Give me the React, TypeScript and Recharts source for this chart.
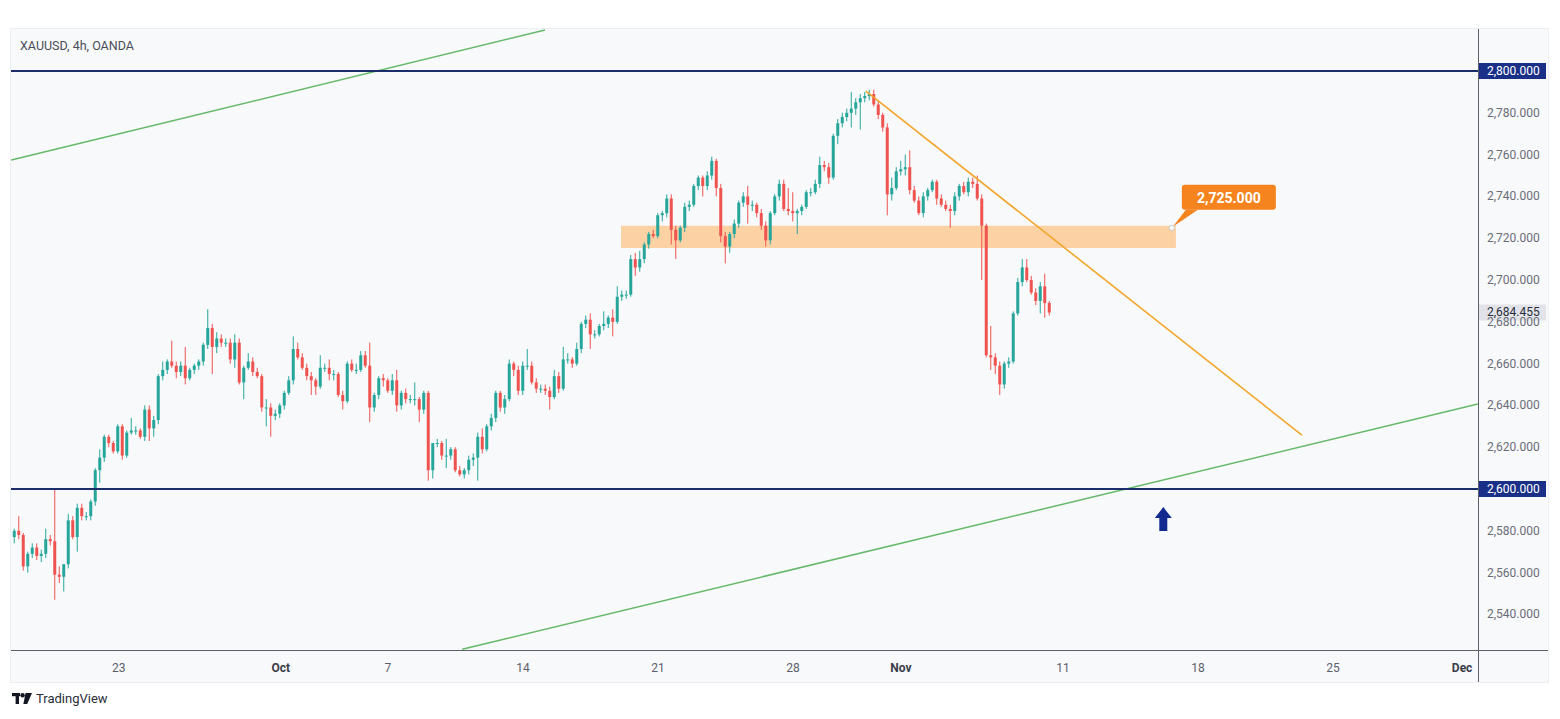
import React from 'react';
import {
  ComposedChart,
  Bar,
  XAxis,
  YAxis,
  ReferenceLine,
  ReferenceArea,
  ReferenceDot,
} from 'recharts';

// XAUUSD 4h candles, 17 Sep - 8 Nov
const opens = [
  2577, 2580, 2578, 2563, 2569, 2572, 2568, 2569, 2576, 2575,
  2559, 2558, 2564, 2585, 2577, 2591, 2587, 2587, 2594, 2609,
  2615, 2625, 2622, 2618, 2630, 2616, 2627, 2628, 2628, 2625,
  2638, 2629, 2633, 2654, 2657, 2661, 2659, 2656, 2659, 2653,
  2657, 2659, 2661, 2669, 2677, 2668, 2672, 2670, 2670, 2662,
  2670, 2651, 2658, 2661, 2656, 2654, 2639, 2639, 2635, 2636,
  2640, 2646, 2652, 2667, 2663, 2658, 2654, 2652, 2649, 2658,
  2658, 2655, 2655, 2645, 2642, 2660, 2657, 2657, 2664, 2659,
  2639, 2645, 2653, 2652, 2647, 2652, 2640, 2646, 2643, 2643,
  2643, 2638, 2646, 2609, 2622, 2622, 2616, 2616, 2619, 2609,
  2607, 2609, 2614, 2615, 2625, 2619, 2630, 2634, 2646, 2639,
  2643, 2660, 2657, 2647, 2659, 2659, 2651, 2648, 2648, 2647,
  2644, 2654, 2648, 2662, 2662, 2660, 2667, 2679, 2681, 2674,
  2674, 2678, 2679, 2682, 2680, 2692, 2693, 2693, 2710, 2706,
  2710, 2717, 2722, 2721, 2731, 2732, 2739, 2724, 2719, 2725,
  2735, 2736, 2745, 2749, 2745, 2750, 2757, 2744, 2721, 2716,
  2722, 2727, 2737, 2740, 2736, 2736, 2732, 2726, 2719, 2732,
  2740, 2746, 2734, 2733, 2732, 2733, 2735, 2742, 2742, 2746,
  2755, 2754, 2749, 2769, 2775, 2778, 2780, 2782, 2785, 2787,
  2788, 2789, 2784, 2779, 2773, 2741, 2744, 2752, 2753, 2754,
  2743, 2738, 2732, 2740, 2743, 2747, 2739, 2736, 2734, 2733,
  2740, 2745, 2742, 2747, 2746, 2739, 2726, 2664, 2663, 2659,
  2650, 2660, 2661, 2684, 2699, 2706, 2700, 2694, 2690, 2697,
  2689,
];

const highs = [
  2581, 2587, 2579, 2570, 2574, 2574, 2571, 2581, 2578, 2600,
  2563, 2564, 2588, 2587, 2593, 2593, 2589, 2595, 2610, 2619,
  2626, 2626, 2623, 2631, 2631, 2628, 2634, 2630, 2629, 2640,
  2640, 2635, 2655, 2661, 2662, 2671, 2661, 2661, 2668, 2658,
  2660, 2662, 2670, 2686, 2679, 2675, 2674, 2672, 2672, 2674,
  2672, 2659, 2665, 2663, 2658, 2655, 2643, 2641, 2638, 2641,
  2647, 2654, 2673, 2670, 2665, 2660, 2656, 2653, 2664, 2660,
  2662, 2657, 2656, 2647, 2661, 2662, 2660, 2666, 2666, 2670,
  2646, 2654, 2655, 2653, 2655, 2657, 2647, 2648, 2645, 2651,
  2644, 2647, 2647, 2622, 2624, 2623, 2624, 2620, 2620, 2611,
  2610, 2616, 2617, 2627, 2629, 2631, 2636, 2647, 2647, 2645,
  2662, 2661, 2659, 2661, 2667, 2661, 2653, 2650, 2650, 2649,
  2657, 2656, 2668, 2665, 2663, 2670, 2680, 2683, 2684, 2676,
  2679, 2685, 2683, 2686, 2697, 2695, 2695, 2712, 2713, 2714,
  2718, 2723, 2724, 2732, 2733, 2741, 2741, 2726, 2726, 2737,
  2738, 2746, 2750, 2750, 2752, 2759, 2758, 2746, 2723, 2723,
  2729, 2738, 2742, 2745, 2738, 2737, 2734, 2728, 2733, 2741,
  2748, 2748, 2744, 2742, 2734, 2736, 2743, 2744, 2748, 2759,
  2757, 2756, 2770, 2777, 2780, 2782, 2790, 2787, 2789, 2790,
  2791, 2791, 2786, 2780, 2775, 2749, 2754, 2757, 2760, 2762,
  2745, 2740, 2742, 2744, 2748, 2748, 2741, 2738, 2736, 2742,
  2746, 2747, 2749, 2749, 2750, 2741, 2727, 2678, 2665, 2661,
  2661, 2663, 2685, 2701, 2710, 2710, 2702, 2696, 2699, 2703,
  2690,
];

const lows = [
  2574, 2576, 2561, 2560, 2567, 2566, 2565, 2567, 2573, 2547,
  2555, 2551, 2562, 2576, 2570, 2585, 2585, 2585, 2592, 2603,
  2613, 2620, 2617, 2617, 2614, 2615, 2626, 2626, 2624, 2623,
  2623, 2625, 2631, 2652, 2655, 2658, 2653, 2654, 2650, 2652,
  2655, 2657, 2659, 2667, 2655, 2665, 2668, 2668, 2660, 2658,
  2650, 2643, 2657, 2654, 2653, 2637, 2630, 2625, 2633, 2634,
  2638, 2645, 2650, 2662, 2657, 2652, 2645, 2645, 2648, 2656,
  2652, 2652, 2644, 2638, 2641, 2656, 2655, 2656, 2658, 2632,
  2637, 2643, 2649, 2646, 2645, 2637, 2638, 2641, 2641, 2640,
  2632, 2636, 2604, 2605, 2620, 2614, 2610, 2614, 2608, 2606,
  2605, 2607, 2611, 2604, 2617, 2618, 2628, 2632, 2637, 2636,
  2642, 2654, 2645, 2645, 2657, 2650, 2646, 2646, 2645, 2638,
  2643, 2646, 2647, 2660, 2658, 2659, 2665, 2677, 2667, 2672,
  2673, 2676, 2677, 2673, 2679, 2690, 2691, 2692, 2702, 2704,
  2708, 2715, 2720, 2720, 2728, 2730, 2717, 2710, 2718, 2723,
  2733, 2735, 2743, 2740, 2743, 2748, 2740, 2718, 2708, 2713,
  2720, 2725, 2735, 2727, 2733, 2730, 2724, 2716, 2717, 2731,
  2738, 2733, 2731, 2728, 2722, 2731, 2734, 2740, 2741, 2744,
  2752, 2746, 2748, 2765, 2773, 2776, 2773, 2779, 2772, 2785,
  2786, 2783, 2777, 2771, 2731, 2738, 2743, 2750, 2750, 2741,
  2737, 2731, 2730, 2738, 2742, 2736, 2735, 2733, 2725, 2731,
  2738, 2741, 2740, 2744, 2738, 2700, 2663, 2657, 2655, 2645,
  2648, 2658, 2660, 2683, 2697, 2699, 2693, 2688, 2684, 2682,
  2683,
];

const closes = [
  2580, 2578, 2563, 2569, 2572, 2568, 2569, 2576, 2575, 2559,
  2558, 2564, 2585, 2577, 2591, 2587, 2587, 2594, 2609, 2615,
  2625, 2622, 2618, 2630, 2616, 2627, 2628, 2628, 2625, 2638,
  2629, 2633, 2654, 2657, 2661, 2659, 2656, 2659, 2653, 2657,
  2659, 2661, 2669, 2677, 2668, 2672, 2670, 2670, 2662, 2670,
  2651, 2658, 2661, 2656, 2654, 2639, 2639, 2635, 2636, 2640,
  2646, 2652, 2667, 2663, 2658, 2654, 2652, 2649, 2658, 2658,
  2655, 2655, 2645, 2642, 2660, 2657, 2657, 2664, 2659, 2639,
  2645, 2653, 2652, 2647, 2652, 2640, 2646, 2643, 2643, 2643,
  2638, 2646, 2609, 2622, 2622, 2616, 2616, 2619, 2609, 2607,
  2609, 2614, 2615, 2625, 2619, 2630, 2634, 2646, 2639, 2643,
  2660, 2657, 2647, 2659, 2659, 2651, 2648, 2648, 2647, 2644,
  2654, 2648, 2662, 2662, 2660, 2667, 2679, 2681, 2674, 2674,
  2678, 2679, 2682, 2680, 2692, 2693, 2693, 2710, 2706, 2710,
  2717, 2722, 2721, 2731, 2732, 2739, 2724, 2719, 2725, 2735,
  2736, 2745, 2749, 2745, 2750, 2757, 2744, 2721, 2716, 2722,
  2727, 2737, 2740, 2736, 2736, 2732, 2726, 2719, 2732, 2740,
  2746, 2734, 2733, 2732, 2733, 2735, 2742, 2742, 2746, 2755,
  2754, 2749, 2769, 2775, 2778, 2780, 2782, 2785, 2787, 2788,
  2789, 2784, 2779, 2773, 2741, 2744, 2752, 2753, 2754, 2743,
  2738, 2732, 2740, 2743, 2747, 2739, 2736, 2734, 2733, 2740,
  2745, 2742, 2747, 2746, 2739, 2726, 2664, 2663, 2659, 2650,
  2660, 2661, 2684, 2699, 2706, 2700, 2694, 2690, 2697, 2689,
  2684.455,
];

// time axis: candle slot where each date label sits
const dayTicks = [23.3, 59.3, 83.1, 113.1, 143.1, 173.1, 197.1, 233.1, 263.1, 293.1, 321.8];
const dayLabels = ['23', 'Oct', '7', '14', '21', '28', 'Nov', '11', '18', '25', 'Dec'];
const monthLabels = ['Oct', 'Nov', 'Dec'];

const priceTicks = [2540, 2560, 2580, 2600, 2620, 2640, 2660, 2680, 2700, 2720, 2740, 2760, 2780, 2800];
const levels = [2800, 2600];
const lastPrice = 2684.455;

// drawings
const zoneSlots = [134.9, 258.2];
const zonePrices = [2715.3, 2726.0];
const zoneTag = 2725;
const upperChannel = [{ x: -0.6, y: 2757.4 }, { x: 118, y: 2819.6 }];
const lowerChannel = [{ x: 99.6, y: 2523.3 }, { x: 325.3, y: 2640.7 }];
const trendLine = [{ x: 189.3, y: 2790.4 }, { x: 286.2, y: 2625.8 }];
const arrowAt = { x: 255.4, y: 2585.6 };

const UP = '#26a69a';
const DOWN = '#ef5350';
const NAVY = '#1b2d6b';
const FONT = 'Roboto, "Liberation Sans", Arial, sans-serif';

const data = opens.map((o, i) => ({
  slot: i,
  open: o,
  high: highs[i],
  low: lows[i],
  close: closes[i],
  range: [lows[i], highs[i]],
}));

const fmt = (v: number) =>
  v.toLocaleString('en-US', { minimumFractionDigits: 3, maximumFractionDigits: 3 });

function Candle(props: any) {
  const { x, y, width, height, payload } = props;
  if (!payload || height == null || isNaN(y)) return null;
  const top = Math.min(y, y + height);
  const h = Math.abs(height);
  const ppu = h / (payload.high - payload.low || 1);
  const color = payload.close >= payload.open ? UP : DOWN;
  const bodyTop = top + (payload.high - Math.max(payload.open, payload.close)) * ppu;
  const bodyH = Math.max(1, Math.abs(payload.close - payload.open) * ppu);
  const cx = x + width / 2;
  return (
    <g>
      <line x1={cx} x2={cx} y1={top} y2={top + h} stroke={color} strokeWidth={1} />
      <rect x={x} y={bodyTop} width={width} height={bodyH} fill={color} />
    </g>
  );
}

const axisBox = (text: string, bg: string, fg: string) => (props: any) => {
  const vb = props.viewBox;
  if (!vb) return null;
  const x = vb.x + vb.width + 1;
  const y = vb.y;
  return (
    <g>
      <rect x={x} y={y - 8} width={67} height={16} fill={bg} />
      <text x={x + 8} y={y} dy={4} fill={fg} fontSize={12} fontFamily={FONT}>
        {text}
      </text>
    </g>
  );
};

const PriceTick = (props: any) => {
  const { x, y, payload } = props;
  if (levels.includes(payload.value)) return null;
  return (
    <text x={x} y={y} dy={4} fill="#6a6d78" fontSize={12} fontFamily={FONT} textAnchor="start">
      {fmt(payload.value)}
    </text>
  );
};

const DayTick = (props: any) => {
  const { x, y, index } = props;
  const label = dayLabels[index];
  const month = monthLabels.includes(label);
  return (
    <text
      x={x}
      y={y}
      dy={20}
      textAnchor="middle"
      fill={month ? '#3a3d47' : '#5d606b'}
      fontSize={12}
      fontWeight={month ? 700 : 400}
      fontFamily={FONT}
    >
      {label}
    </text>
  );
};

const Callout = (props: any) => {
  const { cx, cy } = props;
  if (cx == null) return null;
  const bx = cx + 10;
  const by = cy - 43;
  return (
    <g>
      <path d={`M${cx + 1},${cy - 1} L${bx + 4},${by + 25} L${bx + 16},${by + 25} Z`} fill="#f5841f" />
      <rect x={bx} y={by} width={94} height={25} rx={3} fill="#f5841f" />
      <text
        x={bx + 47}
        y={by + 13}
        dy={5}
        textAnchor="middle"
        fill="#ffffff"
        fontSize={14}
        fontWeight={700}
        fontFamily={FONT}
      >
        {fmt(zoneTag)}
      </text>
      <circle cx={cx} cy={cy} r={2.5} fill="#ffffff" stroke="#c9ccd4" strokeWidth={1} />
    </g>
  );
};

const UpArrow = (props: any) => {
  const { cx, cy } = props;
  if (cx == null) return null;
  const pts = [
    [0, -12],
    [8.5, -1],
    [4, -1],
    [4, 12],
    [-4, 12],
    [-4, -1],
    [-8.5, -1],
  ]
    .map(([dx, dy]) => `${cx + dx},${cy + dy}`)
    .join(' ');
  return <polygon points={pts} fill="#12298f" />;
};

export default function App() {
  return (
    <div
      style={{
        position: 'absolute',
        left: 0,
        top: 0,
        width: 1560,
        height: 719,
        background: '#ffffff',
        fontFamily: FONT,
      }}
    >
      <div
        style={{
          position: 'absolute',
          left: 11,
          top: 29,
          width: 1537,
          height: 653,
          background: '#f8f9fb',
          boxShadow: '0 0 0 1px #eceef2',
        }}
      >
        <ComposedChart
          width={1537}
          height={653}
          data={data}
          margin={{ top: 0, right: 0, bottom: 0, left: 0 }}
        >
          <XAxis
            dataKey="slot"
            type="number"
            domain={[-0.667, 325.333]}
            allowDataOverflow
            ticks={dayTicks}
            interval={0}
            tick={<DayTick />}
            tickLine={false}
            axisLine={false}
            tickSize={0}
            height={32}
          />
          <YAxis
            orientation="right"
            type="number"
            domain={[2522.97, 2820.1]}
            allowDataOverflow
            ticks={priceTicks}
            interval={0}
            tick={<PriceTick />}
            tickLine={false}
            axisLine={false}
            tickSize={0}
            tickMargin={9}
            width={70}
          />
          <Bar dataKey="range" barSize={3} isAnimationActive={false} shape={(p: any) => <Candle {...p} />} />
          <ReferenceArea
            x1={zoneSlots[0]}
            x2={zoneSlots[1]}
            y1={zonePrices[0]}
            y2={zonePrices[1]}
            fill="#ffa94d"
            fillOpacity={0.5}
            stroke="none"
          />
          <ReferenceLine segment={upperChannel} stroke="#66b96a" strokeWidth={1.5} ifOverflow="hidden" />
          <ReferenceLine segment={lowerChannel} stroke="#66b96a" strokeWidth={1.5} ifOverflow="hidden" />
          <ReferenceLine segment={trendLine} stroke="#f3a62c" strokeWidth={1.6} ifOverflow="hidden" />
          {levels.map((lv) => (
            <ReferenceLine
              key={lv}
              y={lv}
              stroke={NAVY}
              strokeWidth={1.8}
              label={axisBox(fmt(lv), '#1a3088', '#ffffff')}
            />
          ))}
          <ReferenceLine y={lastPrice} stroke="none" label={axisBox(fmt(lastPrice), '#e1e3e8', '#2a2e39')} />
          <ReferenceDot
            x={zoneSlots[1] - 0.9}
            y={zoneTag}
            shape={(p: any) => <Callout {...p} />}
            isAnimationActive={false}
          />
          <ReferenceDot x={arrowAt.x} y={arrowAt.y} shape={(p: any) => <UpArrow {...p} />} />
        </ComposedChart>
        {/* pane separators */}
        <div style={{ position: 'absolute', left: 1467, top: 0, width: 1, height: 653, background: '#5d606b' }} />
        <div style={{ position: 'absolute', left: 0, top: 621, width: 1537, height: 1, background: '#5d606b' }} />
        <div
          style={{
            position: 'absolute',
            left: 9,
            top: 9,
            fontSize: 12.5,
            color: '#4a4d57',
            fontFamily: FONT,
          }}
        >
          XAUUSD, 4h, OANDA
        </div>
      </div>
      <div
        style={{
          position: 'absolute',
          left: 12,
          top: 691,
          display: 'flex',
          alignItems: 'center',
          gap: 4,
          fontSize: 13,
          color: '#2a2e39',
          fontFamily: FONT,
        }}
      >
        <svg width={20} height={12} viewBox="0 0 20 12">
          <rect x={0} y={0} width={8} height={3.2} fill="#131722" />
          <rect x={3.6} y={0} width={3.4} height={11} fill="#131722" />
          <circle cx={10.6} cy={2.2} r={2.2} fill="#131722" />
          <polygon points="13.5,0 20,0 15.2,11 11.4,11" fill="#131722" />
        </svg>
        <span>TradingView</span>
      </div>
    </div>
  );
}
